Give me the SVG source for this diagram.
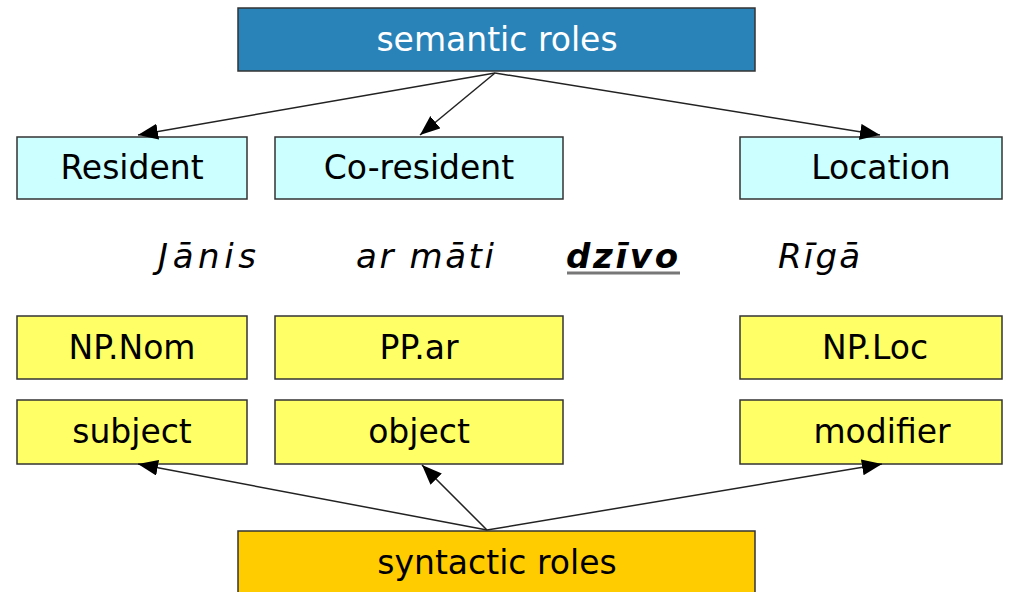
<svg xmlns="http://www.w3.org/2000/svg" width="1019" height="592" viewBox="0 0 1019 592">
<style>
.box{stroke:#333;stroke-width:1.5}
.sem{fill:#2A83B8}
.cy{fill:#CCFFFF}
.ye{fill:#FFFF66}
.or{fill:#FFCC00}
.t{font-family:"DejaVu Sans",sans-serif;font-size:33px;text-anchor:middle;fill:#000}
.w{fill:#fff}
.it{font-family:"DejaVu Sans",sans-serif;font-size:34px;font-style:italic;fill:#000}
.conn line{stroke:#222;stroke-width:1.5;marker-end:url(#ah)}
</style>
<defs>
<marker id="ah" markerUnits="userSpaceOnUse" markerWidth="22" markerHeight="18" refX="20" refY="8" orient="auto">
<path d="M0,0 L20,8 L0,16 Z" fill="#000"/>
</marker>
</defs>
<rect width="1019" height="592" fill="#fff"/>
<g id="semantic"><rect class="box sem" x="238" y="8" width="517" height="63"/><text class="t w" x="497" y="51">semantic roles</text></g>
<g id="resident"><rect class="box cy" x="17" y="137" width="230" height="62"/><text class="t" x="132" y="179">Resident</text></g>
<g id="coresident"><rect class="box cy" x="275" y="137" width="288" height="62"/><text class="t" x="419" y="179">Co-resident</text></g>
<g id="location"><rect class="box cy" x="740" y="137" width="262" height="62"/><text class="t" x="881" y="179">Location</text></g>
<g id="words">
<text class="it" x="158" y="268" textLength="98" lengthAdjust="spacing">Jānis</text>
<text class="it" x="356" y="268" textLength="138" lengthAdjust="spacing">ar māti</text>
<text class="it" x="566" y="268" font-weight="bold" textLength="112" lengthAdjust="spacing">dzīvo</text>
<line x1="567" y1="273" x2="680" y2="273" stroke="#777" stroke-width="3"/>
<text class="it" x="778" y="268" textLength="82" lengthAdjust="spacing">Rīgā</text>
</g>
<g id="npnom"><rect class="box ye" x="17" y="316" width="230" height="63"/><text class="t" x="132" y="359">NP.Nom</text></g>
<g id="ppar"><rect class="box ye" x="275" y="316" width="288" height="63"/><text class="t" x="419" y="359">PP.ar</text></g>
<g id="nploc"><rect class="box ye" x="740" y="316" width="262" height="63"/><text class="t" x="875" y="359">NP.Loc</text></g>
<g id="subject"><rect class="box ye" x="17" y="400" width="230" height="64"/><text class="t" x="132" y="443">subject</text></g>
<g id="object"><rect class="box ye" x="275" y="400" width="288" height="64"/><text class="t" x="419" y="443">object</text></g>
<g id="modifier"><rect class="box ye" x="740" y="400" width="262" height="64"/><text class="t" x="882" y="443">modifier</text></g>
<g id="syntactic"><rect class="box or" x="238" y="531" width="517" height="70"/><text class="t" x="497" y="574">syntactic roles</text></g>
<g class="conn" id="connectors">
<line x1="495" y1="73" x2="138" y2="135"/>
<line x1="495" y1="73" x2="420" y2="135"/>
<line x1="495" y1="73" x2="880" y2="135"/>
<line x1="487" y1="530" x2="138" y2="464"/>
<line x1="487" y1="530" x2="422" y2="465"/>
<line x1="487" y1="530" x2="882" y2="464"/>
</g>
</svg>
